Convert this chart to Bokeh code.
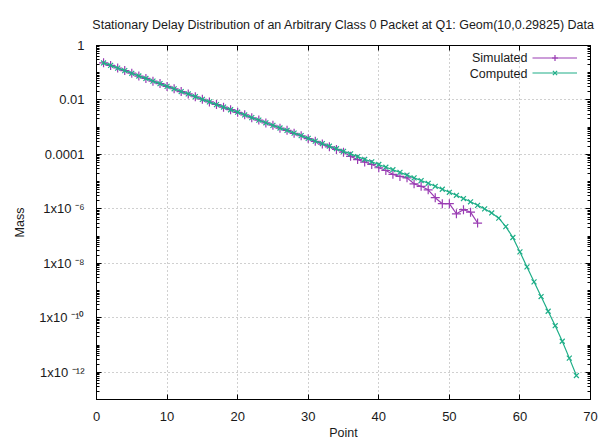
from bokeh.plotting import figure
from bokeh.models import (FixedTicker, CustomJSTickFormatter, LinearAxis, LogAxis,
                          Legend, LegendItem, Label, Range1d)
from bokeh.embed import file_html
from bokeh.resources import INLINE

title_text = "Stationary Delay Distribution of an Arbitrary Class 0 Packet at Q1: Geom(10,0.29825) Data"

computed_x = list(range(1, 69))
computed_y = [
    2.29e-1, 1.86e-1, 1.48e-1, 1.20e-1, 9.55e-2, 7.59e-2, 6.17e-2, 4.90e-2, 3.98e-2, 3.16e-2,
    2.57e-2, 2.04e-2, 1.66e-2, 1.32e-2, 1.05e-2, 8.51e-3, 6.76e-3, 5.50e-3, 4.37e-3, 3.55e-3,
    2.82e-3, 2.24e-3, 1.82e-3, 1.45e-3, 1.17e-3, 9.33e-4, 7.59e-4, 6.03e-4, 4.90e-4, 3.89e-4,
    3.09e-4, 2.51e-4, 2.00e-4, 1.62e-4, 1.29e-4, 1.05e-4, 8.32e-5, 6.61e-5, 5.37e-5, 4.27e-5,
    3.39e-5, 2.75e-5, 2.19e-5, 1.74e-5, 1.38e-5, 1.10e-5, 8.71e-6, 6.76e-6, 5.25e-6, 4.07e-6,
    3.16e-6, 2.40e-6, 1.82e-6, 1.35e-6, 1.00e-6, 7.08e-7, 4.57e-7, 2.24e-7, 8.91e-8, 2.63e-8,
    7.41e-9, 2.09e-9, 6.03e-10, 1.74e-10, 5.13e-11, 1.38e-11, 3.31e-12, 7.59e-13,
]

simulated_x = list(range(1, 55))
simulated_y = [
    2.31e-1, 1.85e-1, 1.49e-1, 1.195e-1, 9.60e-2, 7.55e-2, 6.20e-2, 4.88e-2, 3.99e-2, 3.15e-2,
    2.58e-2, 2.03e-2, 1.67e-2, 1.31e-2, 1.06e-2, 8.45e-3, 6.80e-3, 5.45e-3, 4.40e-3, 3.52e-3,
    2.84e-3, 2.22e-3, 1.83e-3, 1.43e-3, 1.18e-3, 9.20e-4, 7.65e-4, 5.95e-4, 4.85e-4, 3.80e-4,
    3.02e-4, 2.40e-4, 1.90e-4, 1.52e-4, 1.20e-4, 8.51e-5, 6.46e-5, 5.25e-5, 4.27e-5, 3.24e-5,
    2.57e-5, 1.86e-5, 1.55e-5, 1.38e-5, 8.32e-6, 6.76e-6, 5.01e-6, 2.57e-6, 1.55e-6, 1.55e-6,
    6.61e-7, 9.33e-7, 7.59e-7, 3.02e-7,
]

x_ticks = [0, 10, 20, 30, 40, 50, 60, 70]
y_ticks = [1, 1e-2, 1e-4, 1e-6, 1e-8, 1e-10, 1e-12]
y_minor = [m * 10.0 ** e for e in range(-13, 0) for m in range(2, 10)] + [10.0 ** e for e in range(-13, 0, 2)]

series_names = ["Simulated", "Computed"]
purple = "#9a3db3"
green = "#1fae88"

FONT = "Liberation Sans"
TXT = "#1a1a1a"

p = figure(width=604, height=443, y_axis_type="log",
           x_range=Range1d(0, 70), y_range=Range1d(1e-13, 1),
           output_backend="svg", toolbar_location=None,
           min_border_left=96, min_border_right=14, min_border_top=45, min_border_bottom=44,
           background_fill_color="white", border_fill_color="white")

p.title.text = title_text
p.title.align = "center"
p.title.offset = -9
p.title.text_font = FONT
p.title.text_font_size = "12.5px"
p.title.text_font_style = "normal"
p.title.text_color = TXT
p.title.standoff = 28

p.outline_line_color = "black"
p.outline_line_width = 1

xt = FixedTicker(ticks=x_ticks, minor_ticks=[])
yt = FixedTicker(ticks=y_ticks, minor_ticks=y_minor)

fmt = CustomJSTickFormatter(code="""
const e = Math.round(Math.log10(tick));
if (e >= -4) { return Number(tick.toPrecision(1)).toString(); }
const sup = {"-": "\\u207b", "0": "\\u2070", "1": "\\u00b9", "2": "\\u00b2", "3": "\\u00b3",
             "4": "\\u2074", "5": "\\u2075", "6": "\\u2076", "7": "\\u2077", "8": "\\u2078", "9": "\\u2079"};
let s = "";
for (const c of String(e)) { s += sup[c]; }
return "1x10 " + s;
""")

for ax in [p.xaxis[0], p.yaxis[0]]:
    ax.major_tick_in = 5
    ax.major_tick_out = 0
    ax.minor_tick_in = 3
    ax.minor_tick_out = 0
    ax.axis_line_color = "black"
    ax.major_tick_line_color = "black"
    ax.minor_tick_line_color = "black"
    ax.major_label_text_font = FONT
    ax.major_label_text_font_size = "13px"
    ax.major_label_text_color = TXT
    ax.axis_label_text_font = FONT
    ax.axis_label_text_font_size = "12.5px"
    ax.axis_label_text_font_style = "normal"
    ax.axis_label_text_color = TXT

p.xaxis[0].ticker = xt
p.xaxis[0].axis_label = "Point"
p.xaxis[0].major_label_standoff = 12
p.xaxis[0].axis_label_standoff = 2

p.yaxis[0].ticker = yt
p.yaxis[0].formatter = fmt
p.yaxis[0].axis_label = "Mass"
p.yaxis[0].major_label_standoff = 12
p.yaxis[0].axis_label_standoff = 9

blank = CustomJSTickFormatter(code="return '';")
top = LinearAxis(ticker=xt, formatter=blank, major_tick_in=5, major_tick_out=0,
                 minor_tick_in=0, minor_tick_out=0, major_label_standoff=0, axis_line_color="black")
right = LogAxis(ticker=yt, formatter=blank, major_tick_in=5, major_tick_out=0, minor_tick_in=3,
                minor_tick_out=0, major_label_standoff=0, axis_line_color="black")
p.add_layout(top, "above")
p.add_layout(right, "right")

for g in [p.xgrid[0], p.ygrid[0]]:
    g.grid_line_color = "#a0a0a0"
    g.grid_line_dash = "1 3"
    g.grid_line_width = 1
p.xgrid[0].ticker = xt
p.ygrid[0].ticker = FixedTicker(ticks=y_ticks)

l1 = p.line(simulated_x, simulated_y, line_color=purple, line_width=1.2)
s1 = p.scatter(simulated_x, simulated_y, marker="cross", size=9, line_color=purple, line_width=1.2)
l2 = p.line(computed_x, computed_y, line_color=green, line_width=1.2)
s2 = p.scatter(computed_x, computed_y, marker="x", size=7, line_color=green, line_width=1.2)

legend = Legend(items=[LegendItem(label="\u00a0", renderers=[l1, s1]),
                       LegendItem(label="\u00a0", renderers=[l2, s2])],
                location=(436, 319), glyph_width=45, glyph_height=15, label_height=15,
                label_width=1, label_standoff=1, spacing=0, padding=0, margin=0,
                background_fill_alpha=0, border_line_color=None,
                label_text_font_size="12px")
p.add_layout(legend)

for name, yy in zip(series_names, [341.3, 326.0]):
    p.add_layout(Label(x=431, y=yy, x_units="screen", y_units="screen", text=name,
                       text_align="right", text_baseline="middle", text_font=FONT,
                       text_font_size="12.5px", text_color=TXT))

open("out.html", "w").write(file_html(p, INLINE))
